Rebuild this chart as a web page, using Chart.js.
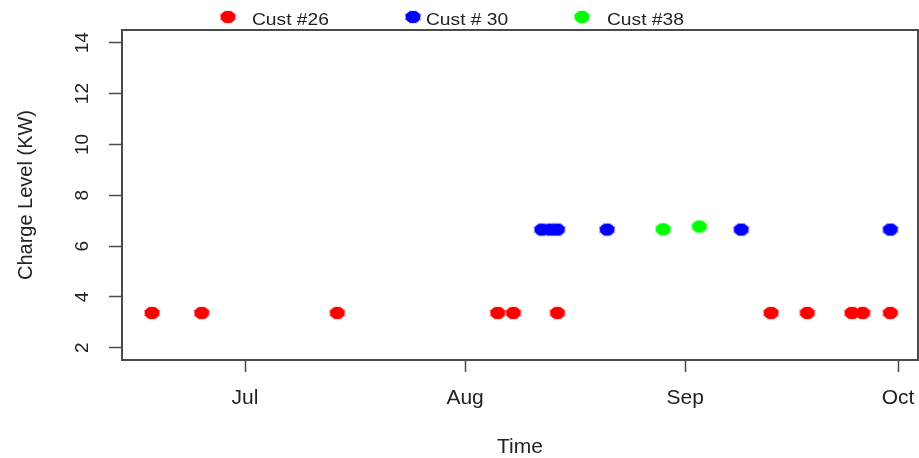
<!DOCTYPE html>
<html>
<head>
<meta charset="utf-8">
<script src="https://cdn.jsdelivr.net/npm/chart.js@4.4.1/dist/chart.umd.min.js"></script>
<style>
  html, body { margin: 0; padding: 0; background: #ffffff; }
  #wrap { width: 919px; height: 458px; position: relative; }
</style>
</head>
<body>
<div id="wrap"><canvas id="c"></canvas></div>
<script>
// ---- data (x = days since 1 June) ----
const tickDays   = [30, 61, 92, 122];
const tickLabels = ['Jul', 'Aug', 'Sep', 'Oct'];
const yTicks     = [2, 4, 6, 8, 10, 12, 14];

const seriesNames = ['Cust #26', 'Cust # 30', 'Cust #38'];
const seriesColors = ['#ff0000', '#0000ff', '#00ff00'];

const cust26Days = [16.9, 23.9, 43.0, 65.6, 67.8, 74.0, 104.1, 109.2, 115.5, 117.0, 120.9];
const cust26Kw   = [3.37, 3.37, 3.37, 3.37, 3.37, 3.37, 3.37, 3.37, 3.37, 3.37, 3.37];
const cust30Days = [71.8, 73.0, 74.0, 81.0, 99.9, 120.9];
const cust30Kw   = [6.65, 6.65, 6.65, 6.65, 6.65, 6.65];
const cust38Days = [88.9, 94.0];
const cust38Kw   = [6.66, 6.77];

const FONT = "'Liberation Sans', Arial, sans-serif";
const TEXT = '#222222';
const LINE = '#4a4a4a';

function dotImage(color) {
  const c = document.createElement('canvas');
  c.width = 20; c.height = 16;
  const g = c.getContext('2d');
  g.strokeStyle = color; g.fillStyle = color;
  g.globalAlpha = 0.45; g.lineWidth = 1.6;
  for (let k = 0; k < 8; k++) {
    const a = k * Math.PI / 4 + Math.PI / 8;
    g.beginPath();
    g.moveTo(10, 8);
    g.lineTo(10 + 8.8 * Math.cos(a), 8 + 7.0 * Math.sin(a));
    g.stroke();
  }
  g.globalAlpha = 1;
  g.beginPath();
  g.ellipse(10, 8, 7.5, 6.2, 0, 0, Math.PI * 2);
  g.fill();
  return c;
}
const dots = seriesColors.map(dotImage);

function pts(xs, ys) { return xs.map((x, i) => ({ x: x, y: ys[i] })); }

const boxPlugin = {
  id: 'rbox',
  beforeDatasetsDraw(chart) {
    const a = chart.chartArea, ctx = chart.ctx;
    ctx.save();
    ctx.strokeStyle = LINE; ctx.lineWidth = 2;
    ctx.strokeRect(a.left, a.top, a.right - a.left, a.bottom - a.top);
    ctx.restore();
  }
};

// legend laid out like the R horizontal legend
const legendLayout = { y: 17, baseline: 25, dotX: [228, 413, 582], textX: [252, 426, 607], stretch: 1.2 };
const legendPlugin = {
  id: 'rlegend',
  afterDraw(chart) {
    const ctx = chart.ctx;
    ctx.save();
    ctx.font = '16px ' + FONT;
    ctx.fillStyle = TEXT;
    ctx.textBaseline = 'alphabetic';
    chart.data.datasets.forEach((ds, i) => {
      const img = ds.pointStyle;
      ctx.drawImage(img, legendLayout.dotX[i] - img.width / 2, legendLayout.y - img.height / 2);
      ctx.save();
      ctx.translate(legendLayout.textX[i], legendLayout.baseline);
      ctx.scale(legendLayout.stretch, 1);
      ctx.fillText(ds.label, 0, 0);
      ctx.restore();
    });
    ctx.restore();
  }
};

new Chart(document.getElementById('c'), {
  type: 'scatter',
  data: {
    datasets: [
      { label: seriesNames[0], data: pts(cust26Days, cust26Kw), pointStyle: dots[0], backgroundColor: seriesColors[0], borderColor: seriesColors[0], pointRadius: 8 },
      { label: seriesNames[1], data: pts(cust30Days, cust30Kw), pointStyle: dots[1], backgroundColor: seriesColors[1], borderColor: seriesColors[1], pointRadius: 8 },
      { label: seriesNames[2], data: pts(cust38Days, cust38Kw), pointStyle: dots[2], backgroundColor: seriesColors[2], borderColor: seriesColors[2], pointRadius: 8 }
    ]
  },
  plugins: [boxPlugin, legendPlugin],
  options: {
    responsive: true,
    maintainAspectRatio: false,
    animation: false,
    events: [],
    layout: { autoPadding: false, padding: { top: 30, right: 1, left: 0, bottom: 0 } },
    plugins: { legend: { display: false }, tooltip: { enabled: false } },
    scales: {
      x: {
        type: 'linear',
        min: 12.67, max: 124.8,
        afterBuildTicks: s => { s.ticks = tickDays.map(v => ({ value: v })); },
        afterFit: s => { s.height = 98; s.paddingLeft = 0; s.paddingRight = 0; },
        grid: { drawOnChartArea: false, drawTicks: true, tickLength: 12, tickColor: LINE, tickWidth: 1.5 },
        border: { display: true, color: LINE, width: 2 },
        ticks: {
          autoSkip: false, maxRotation: 0, minRotation: 0, padding: 0,
          color: TEXT, font: { family: FONT, size: 21, lineHeight: 2.5 },
          callback: (v, i) => tickLabels[i]
        },
        title: { display: true, text: 'Time', color: TEXT, font: { family: FONT, size: 21, lineHeight: 1 }, padding: { top: 0, bottom: 0 } }
      },
      y: {
        type: 'linear',
        min: 1.52, max: 14.5,
        afterBuildTicks: s => { s.ticks = yTicks.map(v => ({ value: v })); },
        afterFit: s => { s.width = 122; },
        grid: { drawOnChartArea: false, drawTicks: true, tickLength: 13, tickColor: LINE, tickWidth: 1.5 },
        border: { display: true, color: LINE, width: 2 },
        ticks: {
          minRotation: 90, maxRotation: 90, crossAlign: 'center', padding: 16,
          color: TEXT, font: { family: FONT, size: 19 },
          callback: v => String(v)
        },
        title: { display: true, text: 'Charge Level (KW)', color: TEXT, font: { family: FONT, size: 20, lineHeight: 1 }, padding: { top: 16, bottom: 0 } }
      }
    }
  }
});
</script>
</body>
</html>
